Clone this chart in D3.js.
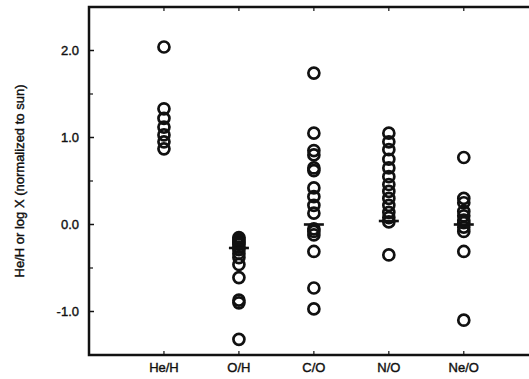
<!DOCTYPE html>
<html>
<head>
<meta charset="utf-8">
<script src="https://cdn.jsdelivr.net/npm/d3@7"></script>
<style>
  body { margin: 0; background: #fff; }
  svg text { font-family: "Liberation Sans", Arial, sans-serif; fill: #111; stroke: #111; stroke-width: 0.4; }
</style>
</head>
<body>
<svg id="chart" width="529" height="379"></svg>
<script>
// categories along x
const categories = ["He/H", "O/H", "C/O", "N/O", "Ne/O"];

// individual measurements per ratio (log, normalized to sun)
const heH = [2.04, 1.33, 1.22, 1.12, 1.03, 0.95, 0.87];
const oH = [-0.15, -0.17, -0.19, -0.21, -0.23, -0.26, -0.29, -0.33, -0.38, -0.46, -0.61, -0.87, -0.9, -1.32];
const cO = [1.74, 1.05, 0.85, 0.8, 0.65, 0.62, 0.42, 0.32, 0.22, 0.13, -0.05, -0.08, -0.12, -0.31, -0.73, -0.97];
const nO = [1.05, 0.95, 0.86, 0.75, 0.65, 0.55, 0.46, 0.38, 0.3, 0.22, 0.14, 0.08, 0.03, -0.35];
const neO = [0.77, 0.3, 0.25, 0.15, 0.1, 0.05, 0.02, -0.03, -0.08, -0.31, -1.1];
const seriesValues = [heH, oH, cO, nO, neO];

// mean markers (null = not drawn)
const means = [null, -0.27, 0.0, 0.04, 0.0];

const yTickValues = [2.0, 1.0, 0.0, -1.0];
const yTickLabels = ["2.0", "1.0", "0.0", "-1.0"];
const yMinorTicks = [1.5, 0.5, -0.5];

const svg = d3.select("#chart");
const plotLeft = 89, plotTop = 7, plotBottom = 355, plotRight = 529;

const x = d3.scaleLinear().domain([0, 5.87]).range([plotLeft, plotRight]);
const y = d3.scaleLinear().domain([-1.5, 2.5]).range([plotBottom, plotTop]);

// frame: left, top, bottom
svg.append("path")
  .attr("d", `M${plotRight},${plotTop}H${plotLeft}V${plotBottom}H${plotRight}`)
  .attr("fill", "none")
  .attr("stroke", "#111")
  .attr("stroke-width", 2.5);

// left axis ticks (inward)
svg.selectAll(".ytick")
  .data(yTickValues)
  .join("line")
  .attr("x1", plotLeft).attr("x2", plotLeft + 5)
  .attr("y1", d => y(d)).attr("y2", d => y(d))
  .attr("stroke", "#111").attr("stroke-width", 1.5);

svg.selectAll(".yminor")
  .data(yMinorTicks)
  .join("line")
  .attr("x1", plotLeft).attr("x2", plotLeft + 4)
  .attr("y1", d => y(d)).attr("y2", d => y(d))
  .attr("stroke", "#111").attr("stroke-width", 1.2);

svg.selectAll(".ylabel")
  .data(yTickValues)
  .join("text")
  .attr("x", plotLeft - 10)
  .attr("y", d => y(d))
  .attr("dy", "0.36em")
  .attr("text-anchor", "end")
  .attr("font-size", 13)
  .text((d, i) => yTickLabels[i]);

// category ticks on top and bottom (inward)
categories.forEach((c, i) => {
  const cx = x(i + 1);
  svg.append("line")
    .attr("x1", cx).attr("x2", cx)
    .attr("y1", plotTop).attr("y2", plotTop + 4)
    .attr("stroke", "#111").attr("stroke-width", 1.2);
  svg.append("line")
    .attr("x1", cx).attr("x2", cx)
    .attr("y1", plotBottom).attr("y2", plotBottom - 4)
    .attr("stroke", "#111").attr("stroke-width", 1.2);
  svg.append("text")
    .attr("x", cx)
    .attr("y", plotBottom + 17)
    .attr("text-anchor", "middle")
    .attr("font-size", 13)
    .text(c);
});

// y axis title
svg.append("text")
  .attr("transform", `translate(24,${(plotTop + plotBottom) / 2}) rotate(-90)`)
  .attr("text-anchor", "middle")
  .attr("font-size", 13)
  .text("He/H or log X (normalized to sun)");

// data points
seriesValues.forEach((vals, i) => {
  svg.append("g")
    .selectAll("circle")
    .data(vals)
    .join("circle")
    .attr("cx", x(i + 1))
    .attr("cy", d => y(d))
    .attr("r", 5.5)
    .attr("fill", "none")
    .attr("stroke", "#111")
    .attr("stroke-width", 2.7);
});

// mean markers
means.forEach((m, i) => {
  if (m === null) return;
  svg.append("line")
    .attr("x1", x(i + 1) - 10).attr("x2", x(i + 1) + 10)
    .attr("y1", y(m)).attr("y2", y(m))
    .attr("stroke", "#111").attr("stroke-width", 2.6);
});
</script>
</body>
</html>
